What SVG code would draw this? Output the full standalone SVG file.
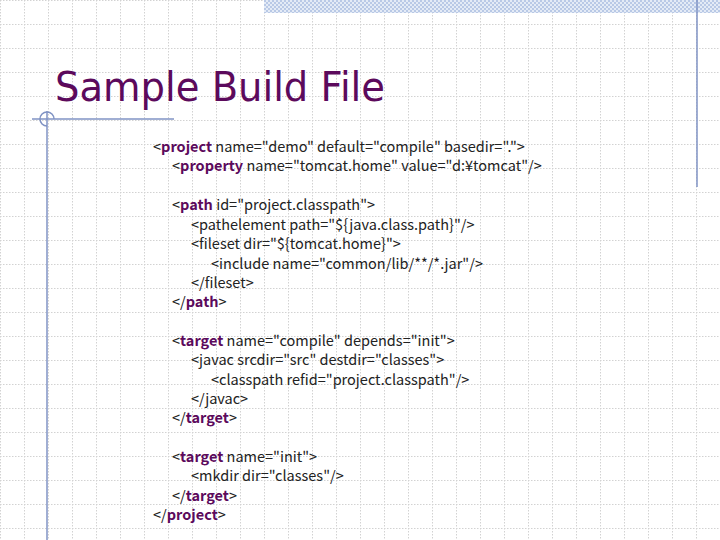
<svg xmlns="http://www.w3.org/2000/svg" width="720" height="540" viewBox="0 0 720 540">
<defs>
<pattern id="grid" width="24" height="24" patternUnits="userSpaceOnUse">
<path d="M0 0.5H24M0.5 0V24" fill="none" stroke="#d2d2d2" stroke-width="1" stroke-dasharray="1.5 1.5"/>
</pattern>
<pattern id="hatch" width="4" height="4" patternUnits="userSpaceOnUse">
<rect width="4" height="4" fill="#e4ebf6"/>
<rect width="2" height="2" fill="#b9c9e6"/>
<rect x="2" y="2" width="2" height="2" fill="#b9c9e6"/>
</pattern>
</defs>
<style>
.c{font-family:"Noto Sans CJK JP","Noto Sans",sans-serif;font-size:14.5px;fill:#222}
.k{font-weight:bold;fill:#5c0a5c}
.deco{stroke:#8093c4;stroke-width:1.5;fill:none}
</style>
<rect width="720" height="540" fill="#fff"/>
<rect width="720" height="540" fill="url(#grid)"/>
<rect x="264" y="0" width="456" height="13" fill="url(#hatch)"/>
<line class="deco" x1="697" y1="0" x2="697" y2="187"/>
<line class="deco" x1="32" y1="119" x2="174" y2="119"/>
<line class="deco" x1="47" y1="111" x2="47" y2="540"/>
<path class="deco" d="M47 126 A7 7 0 1 1 54 119" stroke-width="1"/>
<text x="55" y="101" font-family="DejaVu Sans, sans-serif" font-size="40" fill="#5c0a5c" textLength="330" lengthAdjust="spacingAndGlyphs">Sample Build File</text>
<g class="c">
<text x="153" y="152">&lt;<tspan class="k">project</tspan> name="demo" default="compile" basedir="."&gt;</text>
<text x="172" y="171">&lt;<tspan class="k">property</tspan> name="tomcat.home" value="d:¥tomcat"/&gt;</text>
<text x="172" y="210">&lt;<tspan class="k">path</tspan> id="project.classpath"&gt;</text>
<text x="191" y="230">&lt;pathelement path="${java.class.path}"/&gt;</text>
<text x="191" y="249">&lt;fileset dir="${tomcat.home}"&gt;</text>
<text x="211" y="269">&lt;include name="common/lib/**/*.jar"/&gt;</text>
<text x="191" y="288">&lt;/fileset&gt;</text>
<text x="172" y="307">&lt;/<tspan class="k">path</tspan>&gt;</text>
<text x="172" y="346">&lt;<tspan class="k">target</tspan> name="compile" depends="init"&gt;</text>
<text x="191" y="365">&lt;javac srcdir="src" destdir="classes"&gt;</text>
<text x="211" y="385">&lt;classpath refid="project.classpath"/&gt;</text>
<text x="191" y="404">&lt;/javac&gt;</text>
<text x="172" y="423">&lt;/<tspan class="k">target</tspan>&gt;</text>
<text x="172" y="462">&lt;<tspan class="k">target</tspan> name="init"&gt;</text>
<text x="191" y="481">&lt;mkdir dir="classes"/&gt;</text>
<text x="172" y="501">&lt;/<tspan class="k">target</tspan>&gt;</text>
<text x="153" y="520">&lt;/<tspan class="k">project</tspan>&gt;</text>
</g>
</svg>
